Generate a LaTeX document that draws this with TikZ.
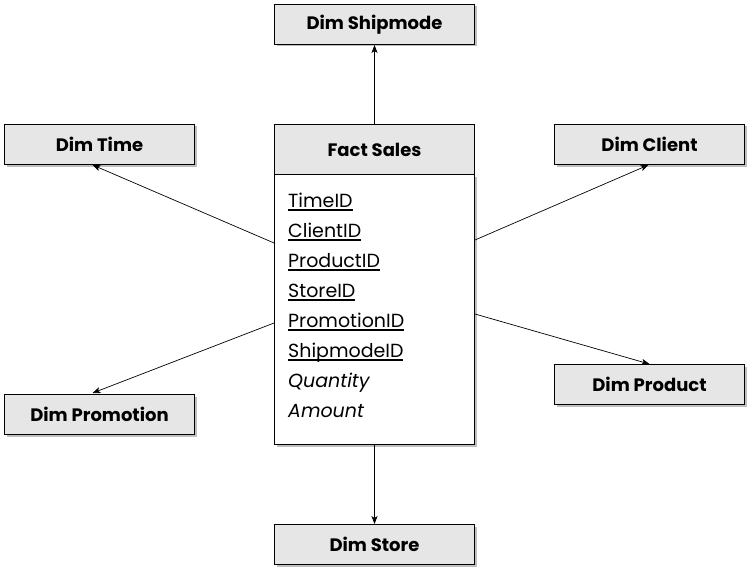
\documentclass[tikz,border=0pt]{standalone}
\usepackage{fontspec}
\setmainfont{Poppins}
\usetikzlibrary{shadows,arrows.meta,calc}
\definecolor{boxfill}{HTML}{E6E6E6}
\newcommand{\myul}[1]{\setbox0\hbox{#1}\rlap{\raisebox{-3.6pt}{\rule{\wd0}{1.4pt}}}\box0}
\begin{document}
\begin{tikzpicture}[x=1pt,y=-1pt,
  dimbox/.style={draw=black,fill=boxfill,line width=0.9pt,minimum width=#1,minimum height=40pt,inner sep=0pt,
    font=\fontsize{18}{20}\selectfont\bfseries,
    drop shadow={shadow xshift=2pt,shadow yshift=-2pt,opacity=0.25,fill=black}},
  dimbox/.default=190pt,
  rowtext/.style={anchor=base west,inner sep=0pt,font=\fontsize{19}{22}\selectfont},
  conn/.style={line width=0.7pt,-{Stealth[length=8pt,width=6pt,inset=2pt]}}]
\useasboundingbox (0,0) rectangle (751,572);
% dimension boxes
\node[dimbox=200pt] (ship) at (374.5,24.5) {Dim Shipmode};
\node[dimbox] (time) at (99.5,144.5) {Dim Time};
\node[dimbox] (client) at (649.5,144.5) {Dim Client};
\node[dimbox] (promo) at (99.5,414.5) {Dim Promotion};
\node[dimbox] (product) at (649.5,384.5) {Dim Product};
\node[dimbox=200pt] (store) at (374.5,544.5) {Dim Store};
% fact table
\node[draw=black,fill=white,line width=0.9pt,minimum width=200pt,minimum height=270pt,inner sep=0pt,
  drop shadow={shadow xshift=2pt,shadow yshift=-2pt,opacity=0.25,fill=black}] (body) at (374.5,309.5) {};
\node[draw=black,fill=boxfill,line width=0.9pt,minimum width=200pt,minimum height=50pt,inner sep=0pt,
  font=\fontsize{18}{20}\selectfont\bfseries] (fact) at (374.5,149.5) {Fact Sales};
\node[rowtext] (r1) at (288,207) {\myul{TimeID}};
\node[rowtext] (r2) at (288,237) {\myul{ClientID}};
\node[rowtext] (r3) at (288,267) {\myul{ProductID}};
\node[rowtext] (r4) at (288,297) {\myul{StoreID}};
\node[rowtext] (r5) at (288,327) {\myul{PromotionID}};
\node[rowtext] (r6) at (288,357) {\myul{ShipmodeID}};
\node[rowtext] (r7) at (288,387) {\itshape Quantity};
\node[rowtext] (r8) at (288,417) {\itshape Amount};
% connection points
\coordinate (pl1) at (body.west |- 0,243);
\coordinate (pl2) at (body.west |- 0,323);
\coordinate (pr1) at (body.east |- 0,240);
\coordinate (pr2) at (body.east |- 0,314);
\coordinate (tt) at ($(time.south)+(-7,0)$);
\coordinate (tp) at ($(promo.north)+(-7,-1)$);
\coordinate (tc) at ($(client.south)+(-1,0)$);
% connectors
\draw[conn] (fact.north) -- (ship.south);
\draw[conn] (body.south) -- (store.north);
\draw[conn] (pl1) -- (tt);
\draw[conn] (pl2) -- (tp);
\draw[conn] (pr1) -- (tc);
\draw[conn] (pr2) -- (product.north);
\end{tikzpicture}
\end{document}
